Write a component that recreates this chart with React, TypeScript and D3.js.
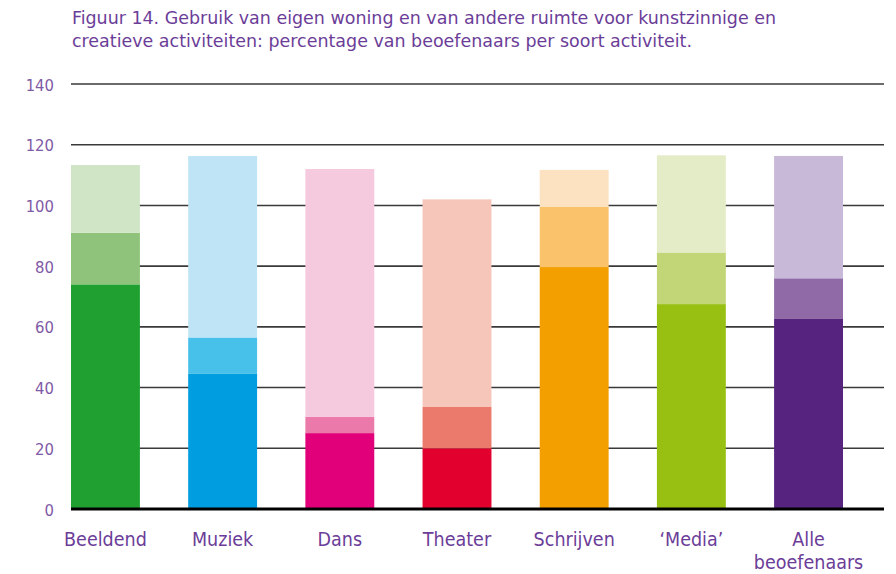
import React from "react";
import * as d3 from "d3";

const categories = ["Beeldend", "Muziek", "Dans", "Theater", "Schrijven", "‘Media’", "Alle beoefenaars"];
const part1 = [74, 44.5, 25, 20, 79.7, 67.5, 62.6];
const part2 = [17, 12, 5.3, 13.6, 19.8, 17, 13.4];
const part3 = [22.3, 59.8, 81.7, 68.4, 12.2, 32, 40.3];
const yTicks = [0, 20, 40, 60, 80, 100, 120, 140];
const palette = [
  ["#20a030", "#8fc27a", "#d0e5c5"],
  ["#009ee0", "#47c0ea", "#bfe4f6"],
  ["#e2007a", "#eb79aa", "#f5c9de"],
  ["#e2002f", "#ec7a6c", "#f6c6ba"],
  ["#f39f00", "#f9c26b", "#fce2c0"],
  ["#98c012", "#c2d677", "#e3ecc7"],
  ["#56237f", "#8f6aa6", "#c9b9d8"],
];
const titleLines = [
  "Figuur 14. Gebruik van eigen woning en van andere ruimte voor kunstzinnige en",
  "creatieve activiteiten: percentage van beoefenaars per soort activiteit.",
];

export default function App() {
  const W = 896, H = 574;
  const x = d3.scaleBand<string>().domain(categories).range([71, 843]).paddingInner(0.412).paddingOuter(0);
  const y = d3.scaleLinear().domain([0, 140]).range([509, 84]);
  const gridX0 = 71, gridX1 = 884;
  const font = "'DejaVu Sans Condensed', 'Roboto', sans-serif";
  const series = [part1, part2, part3];
  return (
    <svg width={W} height={H} viewBox={`0 0 ${W} ${H}`} style={{ position: "absolute", left: 0, top: 0, display: "block" }}>
      <rect x={0} y={0} width={W} height={H} fill="#fff" />
      {titleLines.map((t, i) => (
        <text key={i} x={72} y={24 + i * 23} fontFamily={font} fontSize={17} fill="#6b3d98"
          textLength={i === 0 ? 704 : 620} lengthAdjust="spacingAndGlyphs">{t}</text>
      ))}
      {yTicks.filter(v => v > 0).map(v => (
        <line key={v} x1={gridX0} x2={gridX1} y1={y(v)} y2={y(v)} stroke="#3a3a3a" strokeWidth={1.6} />
      ))}
      {yTicks.map(v => (
        <text key={"t" + v} x={54} y={y(v)} dy="0.4em" textAnchor="end" fontFamily={font} fontSize={16.5} fill="#7f5aa6">{v}</text>
      ))}
      {categories.map((c, i) => {
        let acc = 0;
        return (
          <g key={c}>
            {series.map((s, k) => {
              const y0 = acc, y1 = acc + s[i];
              acc = y1;
              return <rect key={k} x={x(c)} width={x.bandwidth()} y={y(y1)} height={y(y0) - y(y1)} fill={palette[i][k]} />;
            })}
          </g>
        );
      })}
      <line x1={gridX0} x2={gridX1} y1={y(0)} y2={y(0)} stroke="#000" strokeWidth={3} />
      {categories.map(c => {
        const words = c === "Alle beoefenaars" ? ["Alle", "beoefenaars"] : [c];
        return words.map((w, j) => (
          <text key={c + j} x={(x(c) as number) + x.bandwidth() / 2} y={546 + j * 23} textAnchor="middle"
            fontFamily={font} fontSize={19.5} fill="#6b3d98">{w}</text>
        ));
      })}
    </svg>
  );
}
